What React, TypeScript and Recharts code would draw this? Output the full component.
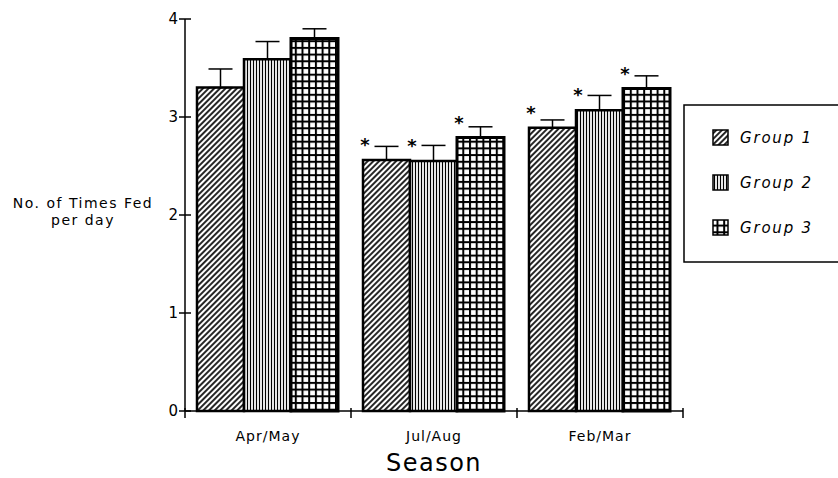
import { BarChart, Bar, XAxis, YAxis, ErrorBar, LabelList, Label } from 'recharts';

const seasons = ['Apr/May', 'Jul/Aug', 'Feb/Mar'];
const groupNames = ['Group 1', 'Group 2', 'Group 3'];
const group1 = [3.3, 2.56, 2.89];
const group2 = [3.59, 2.55, 3.07];
const group3 = [3.8, 2.79, 3.29];
const group1Err = [0.19, 0.14, 0.08];
const group2Err = [0.18, 0.16, 0.15];
const group3Err = [0.1, 0.11, 0.13];
// significance marks (*) per season
const group1Sig = [false, true, true];
const group2Sig = [false, true, true];
const group3Sig = [false, true, true];
const yTicks = [0, 1, 2, 3, 4];

const data = seasons.map((season, i) => ({
  season,
  g1: group1[i],
  g2: group2[i],
  g3: group3[i],
  // only the upper half of the error bar is drawn
  g1Err: [0, group1Err[i]],
  g2Err: [0, group2Err[i]],
  g3Err: [0, group3Err[i]],
  g1Sig: group1Sig[i] ? '*' : '',
  g2Sig: group2Sig[i] ? '*' : '',
  g3Sig: group3Sig[i] ? '*' : '',
}));

const patternIds = ['hatchDiag', 'hatchVert', 'hatchGrid'];
const font = '"DejaVu Sans", sans-serif';

function Patterns() {
  return (
    <svg width={0} height={0} style={{ position: 'absolute' }}>
      <defs>
        <pattern id="hatchDiag" patternUnits="userSpaceOnUse" width={4} height={4} patternTransform="rotate(45)">
          <rect width={4} height={4} fill="#fff" />
          <line x1={2} y1={0} x2={2} y2={4} stroke="#000" strokeWidth={1.7} />
        </pattern>
        <pattern id="hatchVert" patternUnits="userSpaceOnUse" width={3} height={3}>
          <rect width={3} height={3} fill="#fff" />
          <line x1={1.5} y1={0} x2={1.5} y2={3} stroke="#000" strokeWidth={1.2} />
        </pattern>
        <pattern id="hatchGrid" patternUnits="userSpaceOnUse" width={6.7} height={6.7}>
          <rect width={6.7} height={6.7} fill="#fff" />
          <line x1={1} y1={0} x2={1} y2={6.7} stroke="#000" strokeWidth={2} />
          <line x1={0} y1={1} x2={6.7} y2={1} stroke="#000" strokeWidth={2} />
        </pattern>
      </defs>
    </svg>
  );
}

function YTick({ x, y, payload }: any) {
  const ax = x + 9; // tickSize 6 + tickMargin 3
  return (
    <g>
      <line x1={ax - 6} x2={ax + 6} y1={y} y2={y} stroke="#000" strokeWidth={1.5} />
      <text x={ax - 7} y={y} dy="0.36em" textAnchor="end" fontSize={15} fontFamily={font} fill="#000">
        {payload.value}
      </text>
    </g>
  );
}

function XTick({ x, y, payload, index, visibleTicksCount }: any) {
  const ay = y - 20; // tickSize 6 + tickMargin 14
  const half = payload.offset || 83;
  const last = index === visibleTicksCount - 1;
  return (
    <g>
      <line x1={x - half} x2={x - half} y1={ay - 3} y2={ay + 7} stroke="#000" strokeWidth={1.5} />
      {last && <line x1={x + half} x2={x + half} y1={ay - 3} y2={ay + 7} stroke="#000" strokeWidth={1.5} />}
      <text x={x} y={y} dy="0.71em" textAnchor="middle" fontSize={14} fontFamily={font} letterSpacing={1} fill="#000">
        {payload.value}
      </text>
    </g>
  );
}

function YLabel({ viewBox }: any) {
  const cx = viewBox.x + 83;
  const cy = viewBox.y + viewBox.height / 2;
  return (
    <text textAnchor="middle" fontSize={14} fontFamily={font} letterSpacing={1.5} fill="#000">
      <tspan x={cx} y={cy - 7}>No. of Times Fed</tspan>
      <tspan x={cx} y={cy + 10}>per day</tspan>
    </text>
  );
}

function Star({ x, y, value }: any) {
  if (!value) return null;
  return (
    <text x={x + 2} y={y - 9} textAnchor="middle" fontSize={18} fontWeight="bold" fontFamily={font} fill="#000">
      {value}
    </text>
  );
}

function GroupLegend() {
  return (
    <svg width={160} height={160} style={{ position: 'absolute', left: 683, top: 104 }}>
      <rect x={1} y={1} width={170} height={157} fill="#fff" stroke="#000" strokeWidth={1.5} />
      {groupNames.map((name, i) => (
        <g key={name}>
          <rect x={30} y={26 + i * 45} width={15} height={15} fill={`url(#${patternIds[i]})`} stroke="#000" strokeWidth={1.5} />
          <text x={57} y={34 + i * 45} dy="0.36em" fontSize={15} fontStyle="italic" fontFamily={font} letterSpacing={1.8} fill="#000">
            {name}
          </text>
        </g>
      ))}
    </svg>
  );
}

export default function App() {
  return (
    <div style={{ position: 'absolute', left: 0, top: 0, width: 838, height: 478, overflow: 'hidden', background: '#fff' }}>
      <Patterns />
      <BarChart
        width={838}
        height={478}
        data={data}
        margin={{ top: 19, right: 155, bottom: 0, left: 0 }}
        barCategoryGap={12}
        barGap={0}
      >
        <XAxis
          dataKey="season"
          height={67}
          axisLine={{ stroke: '#000', strokeWidth: 1.5 }}
          tickLine={false}
          tickSize={6}
          tickMargin={14}
          tick={<XTick />}
        >
          <Label value="Season" position="insideBottom" offset={7} fontSize={24} fontFamily={font} letterSpacing={1.5} fill="#000" />
        </XAxis>
        <YAxis
          width={185}
          domain={[0, 4]}
          ticks={yTicks}
          axisLine={{ stroke: '#000', strokeWidth: 1.5 }}
          tickLine={false}
          tickSize={6}
          tickMargin={3}
          tick={<YTick />}
        >
          <Label content={<YLabel />} />
        </YAxis>
        <Bar dataKey="g1" fill="url(#hatchDiag)" stroke="#000" strokeWidth={2.5} isAnimationActive={false}>
          <ErrorBar dataKey="g1Err" width={12} stroke="#000" strokeWidth={1.5} />
          <LabelList dataKey="g1Sig" content={<Star />} />
        </Bar>
        <Bar dataKey="g2" fill="url(#hatchVert)" stroke="#000" strokeWidth={2.5} isAnimationActive={false}>
          <ErrorBar dataKey="g2Err" width={12} stroke="#000" strokeWidth={1.5} />
          <LabelList dataKey="g2Sig" content={<Star />} />
        </Bar>
        <Bar dataKey="g3" fill="url(#hatchGrid)" stroke="#000" strokeWidth={3} isAnimationActive={false}>
          <ErrorBar dataKey="g3Err" width={12} stroke="#000" strokeWidth={1.5} />
          <LabelList dataKey="g3Sig" content={<Star />} />
        </Bar>
      </BarChart>
      <GroupLegend />
    </div>
  );
}
